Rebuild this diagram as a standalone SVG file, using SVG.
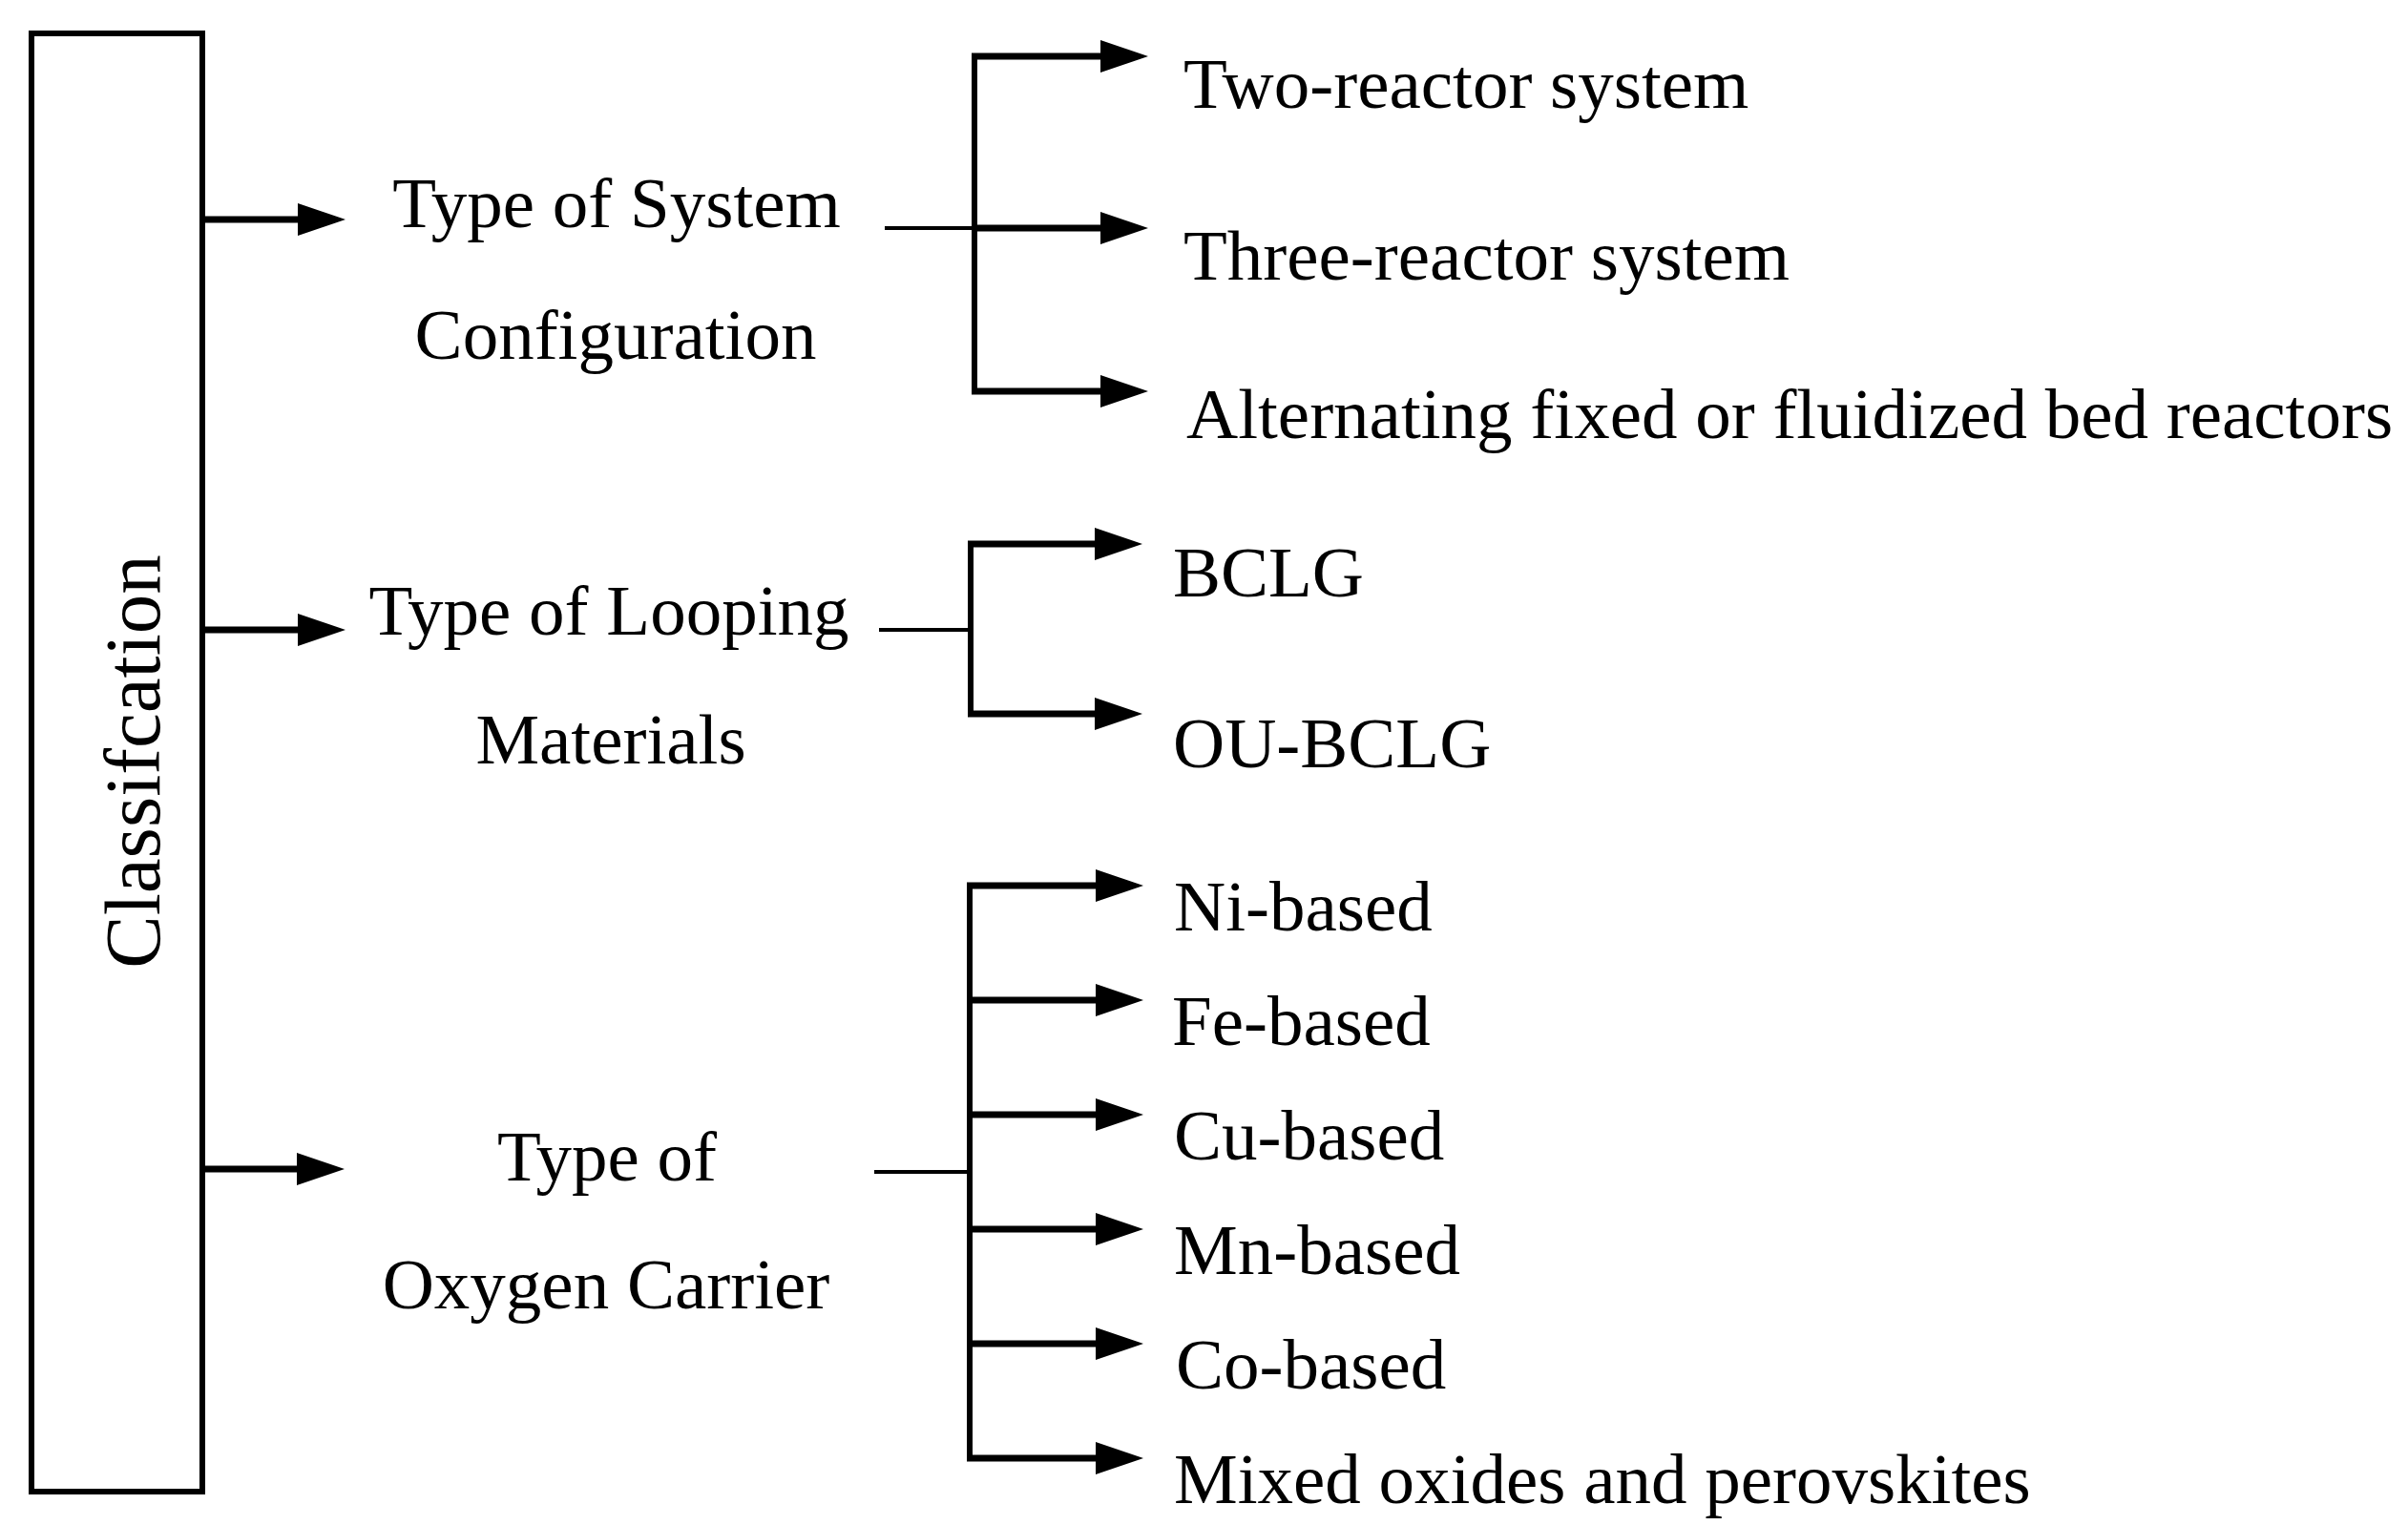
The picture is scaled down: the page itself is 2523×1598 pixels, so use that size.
<svg xmlns="http://www.w3.org/2000/svg" width="2523" height="1598" viewBox="0 0 2523 1598">
<style>
.t{font-family:"Liberation Serif","Times New Roman",serif;font-size:75px;fill:#000}
.m{text-anchor:middle}
.shaft{stroke:#000;stroke-width:7;fill:none}
.thin{stroke:#000;stroke-width:4;fill:none}
.vert{stroke:#000;stroke-width:6;fill:none}
</style>
<defs>
<marker id="ah" markerUnits="userSpaceOnUse" viewBox="0 0 50 34" refX="0" refY="17" markerWidth="50" markerHeight="34" orient="auto">
<polygon points="0,0 50,17 0,34" fill="#000"/>
</marker>
</defs>
<rect width="2523" height="1598" fill="#fff"/>
<g id="classification">
<rect x="33" y="35" width="179" height="1528" fill="none" stroke="#000" stroke-width="6"/>
<text class="t m" style="font-size:83px" transform="translate(167,798) rotate(-90)">Classifcation</text>
</g>
<g id="connectors">
<line class="shaft" x1="212" y1="230" x2="312" y2="230" marker-end="url(#ah)"/>
<line class="shaft" x1="212" y1="660" x2="312" y2="660" marker-end="url(#ah)"/>
<line class="shaft" x1="212" y1="1225" x2="311" y2="1225" marker-end="url(#ah)"/>
<line class="thin" x1="927" y1="239" x2="1021" y2="239"/>
<line class="vert" x1="1021" y1="56" x2="1021" y2="413"/>
<line class="shaft" x1="1018" y1="59" x2="1153" y2="59" marker-end="url(#ah)"/>
<line class="shaft" x1="1018" y1="239" x2="1153" y2="239" marker-end="url(#ah)"/>
<line class="shaft" x1="1018" y1="410" x2="1153" y2="410" marker-end="url(#ah)"/>
<line class="thin" x1="921" y1="660" x2="1017" y2="660"/>
<line class="vert" x1="1017" y1="567" x2="1017" y2="751"/>
<line class="shaft" x1="1014" y1="570" x2="1147" y2="570" marker-end="url(#ah)"/>
<line class="shaft" x1="1014" y1="748" x2="1147" y2="748" marker-end="url(#ah)"/>
<line class="thin" x1="916" y1="1228" x2="1016" y2="1228"/>
<line class="vert" x1="1016" y1="925" x2="1016" y2="1531"/>
<line class="shaft" x1="1013" y1="928" x2="1148" y2="928" marker-end="url(#ah)"/>
<line class="shaft" x1="1013" y1="1048" x2="1148" y2="1048" marker-end="url(#ah)"/>
<line class="shaft" x1="1013" y1="1168" x2="1148" y2="1168" marker-end="url(#ah)"/>
<line class="shaft" x1="1013" y1="1288" x2="1148" y2="1288" marker-end="url(#ah)"/>
<line class="shaft" x1="1013" y1="1408" x2="1148" y2="1408" marker-end="url(#ah)"/>
<line class="shaft" x1="1013" y1="1528" x2="1148" y2="1528" marker-end="url(#ah)"/>
</g>
<g id="system-configuration">
<text class="t m" x="646" y="238">Type of System</text>
<text class="t m" x="645" y="376">Configuration</text>
</g>
<g id="looping-materials">
<text class="t m" x="638" y="665">Type of Looping</text>
<text class="t m" x="640" y="800">Materials</text>
</g>
<g id="oxygen-carrier">
<text class="t m" x="636" y="1237">Type of</text>
<text class="t m" x="635" y="1371">Oxygen Carrier</text>
</g>
<g id="two-reactor"><text class="t" x="1240" y="113">Two-reactor system</text></g>
<g id="three-reactor"><text class="t" x="1240" y="293">Three-reactor system</text></g>
<g id="alternating"><text class="t" x="1243" y="459">Alternating fixed or fluidized bed reactors</text></g>
<g id="bclg"><text class="t" x="1229" y="625">BCLG</text></g>
<g id="ou-bclg"><text class="t" x="1229" y="804">OU-BCLG</text></g>
<g id="ni"><text class="t" x="1230" y="975">Ni-based</text></g>
<g id="fe"><text class="t" x="1228" y="1095">Fe-based</text></g>
<g id="cu"><text class="t" x="1230" y="1215">Cu-based</text></g>
<g id="mn"><text class="t" x="1230" y="1335">Mn-based</text></g>
<g id="co"><text class="t" x="1232" y="1455">Co-based</text></g>
<g id="mixed"><text class="t" x="1230" y="1575">Mixed oxides and perovskites</text></g>
</svg>
